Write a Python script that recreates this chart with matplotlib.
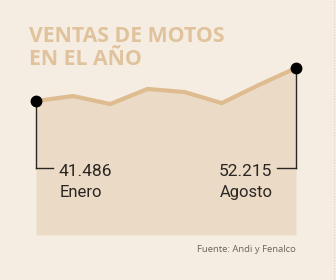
import matplotlib
matplotlib.use("Agg")
import matplotlib.pyplot as plt
import matplotlib.transforms as mtransforms
from matplotlib.lines import Line2D

months = ["Enero", "Febrero", "Marzo", "Abril", "Mayo", "Junio", "Julio", "Agosto"]
ventas = [41486, 43100, 40500, 45400, 44400, 40800, 46700, 52215]
etiqueta_inicio = ("41.486", "Enero")
etiqueta_fin = ("52.215", "Agosto")
titulo = "VENTAS DE MOTOS\nEN EL AÑO"
fuente = "Fuente: Andi y Fenalco"

BG = "#f5ede2"
FILL = "#ebdac5"
LINE = "#dfbc90"
TITLE_C = "#e0c39c"
DARK = "#2a2623"

W, H = 336, 280
fig = plt.figure(figsize=(W / 100, H / 100), dpi=100, facecolor=BG)
ax = fig.add_axes([36 / W, (H - 235) / H, 260 / W, 175 / H])
ax.set_facecolor(BG)
x = list(range(len(months)))
ymin, ymax = -2064, 54811
ax.set_xlim(0, len(months) - 1)
ax.set_ylim(ymin, ymax)
ax.fill_between(x, ventas, ymin, color=FILL, lw=0, zorder=1)
ax.plot(x, ventas, color=LINE, lw=3, solid_joinstyle="miter", zorder=2)
ax.axis("off")

# connectors
tr = mtransforms.blended_transform_factory(ax.transData, ax.transAxes)
yc = (235 - 168) / 175
ax.plot([0, 0], [ventas[0], ymin + (ymax - ymin) * yc], color=DARK, lw=1, zorder=3, clip_on=False)
ax.plot([0, 0.46], [yc, yc], color=DARK, lw=1, transform=tr, zorder=3, clip_on=False)
ax.plot([7, 7], [ventas[-1], ymin + (ymax - ymin) * yc], color=DARK, lw=1, zorder=3, clip_on=False)
ax.plot([6.5, 7], [yc, yc], color=DARK, lw=1, transform=tr, zorder=3, clip_on=False)
ax.plot([x[0], x[-1]], [ventas[0], ventas[-1]], "o", color="black", ms=7.5, zorder=4, clip_on=False)

# faint dotted border at right edge
fig.add_artist(Line2D([334 / W, 334 / W], [0, 1], transform=fig.transFigure,
                      color="#e3d3c3", lw=0.8, ls=(0, (1, 1.5))))

cond = "Roboto"
fig.text(29 / W, 1 - 26 / H, titulo, color=TITLE_C, fontsize=15.3, fontweight="bold",
         family="Open Sans", va="top", ha="left", linespacing=1.12)
fig.text(59 / W, 1 - 176 / H, etiqueta_inicio[0], color=DARK, fontsize=12.5, family=cond, ha="left", va="baseline")
fig.text(60 / W, 1 - 197 / H, etiqueta_inicio[1], color=DARK, fontsize=12, family=cond, ha="left", va="baseline")
fig.text(272 / W, 1 - 176 / H, etiqueta_fin[0], color=DARK, fontsize=12.5, family=cond, ha="right", va="baseline")
fig.text(273 / W, 1 - 197 / H, etiqueta_fin[1], color=DARK, fontsize=12, family=cond, ha="right", va="baseline")
fig.text(296 / W, 1 - 249 / H, fuente, color="#6b635c", fontsize=6.8, family="Open Sans", ha="right", va="center")

fig.savefig("out.png", dpi=100, facecolor=BG)
